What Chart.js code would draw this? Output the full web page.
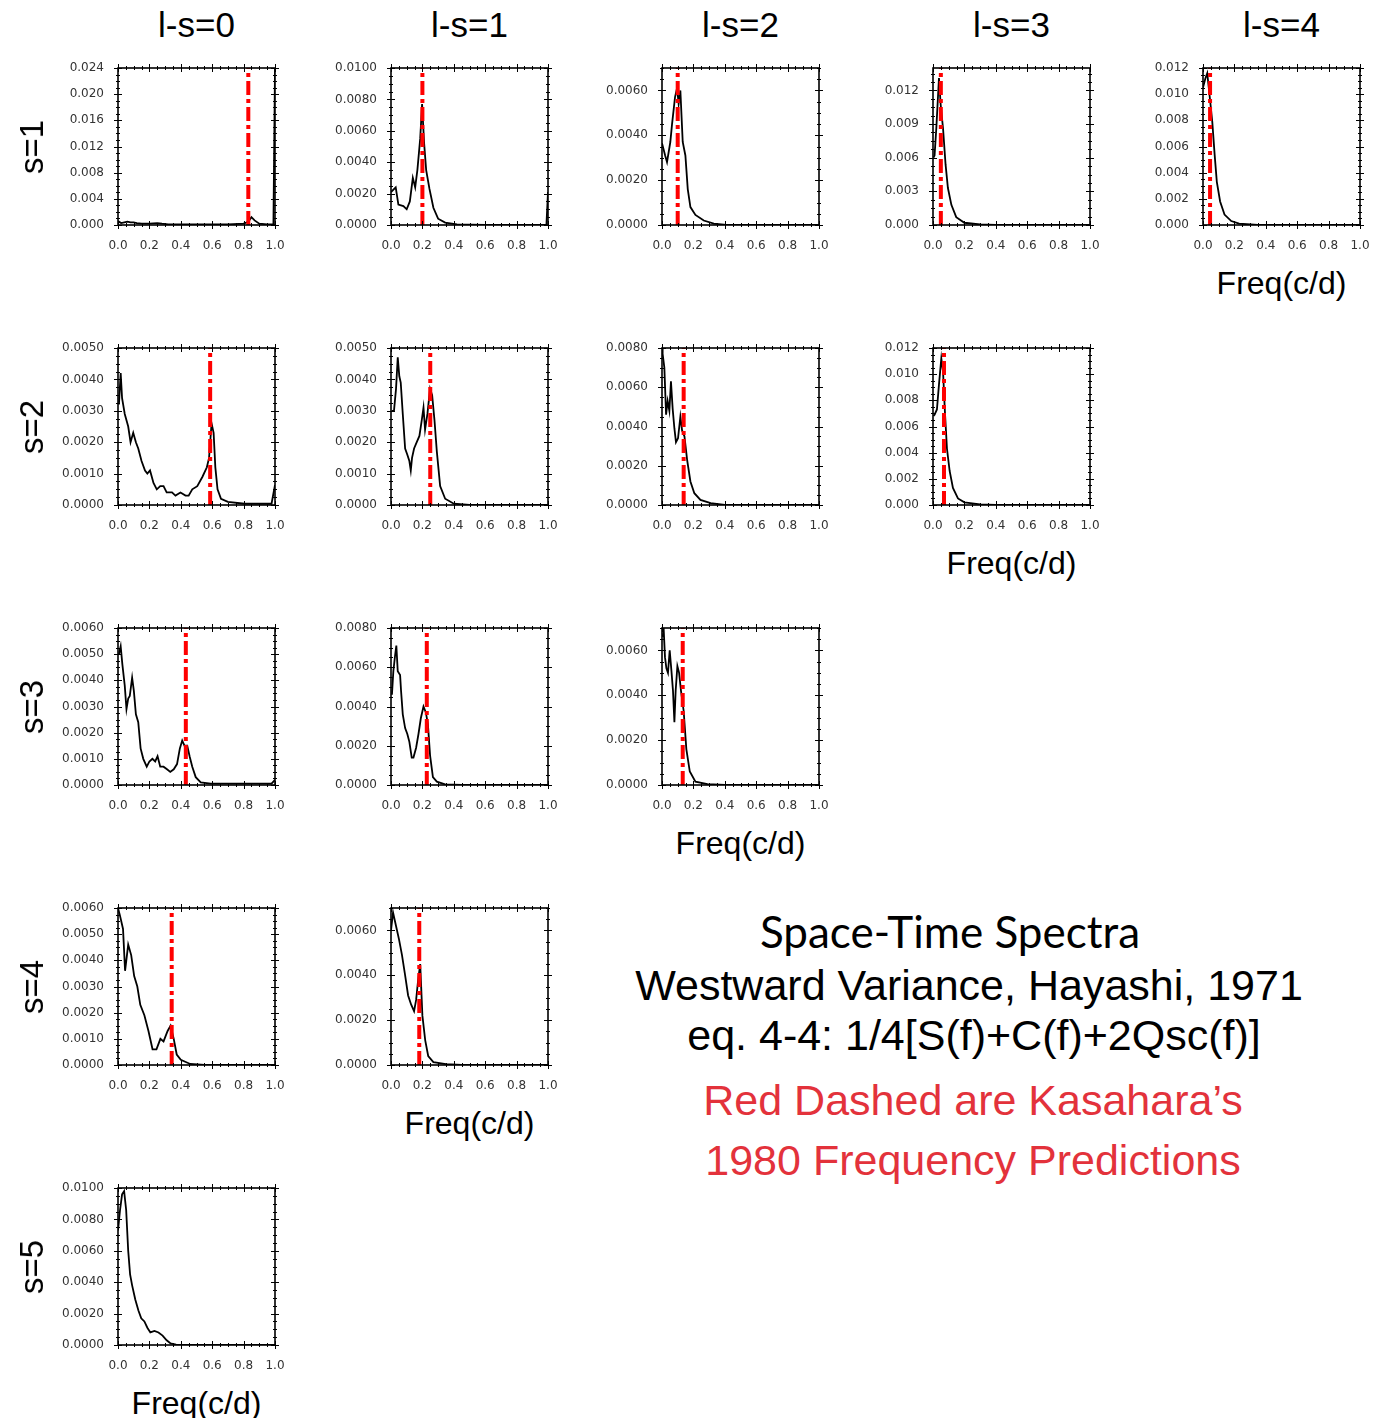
<!DOCTYPE html>
<html>
<head>
<meta charset="utf-8">
<script src="https://cdn.jsdelivr.net/npm/chart.js@4.4.0/dist/chart.umd.min.js"></script>
<style>
  html, body { margin: 0; padding: 0; background: #fff; }
  body { width: 1373px; height: 1418px; position: relative; overflow: hidden;
         font-family: 'Liberation Sans', Arial, Helvetica, sans-serif; }
  canvas { position: absolute; }
  .lbl { position: absolute; white-space: nowrap; transform: translate(-50%, -50%); color: #000; }
  .hdr { font-size: 35px; }
  .side { font-size: 33px; transform: translate(-50%, -50%) rotate(-90deg); }
  .freq { font-size: 32px; }
  .note { font-size: 43px; }
  .title { font-size: 44px; font-family: Lato, 'Open Sans', sans-serif; }
  .red { color: #e3323b; }
</style>
</head>
<body>
<script>
// frequency axis (cycles per day)
const freqTicks = [0, 0.2, 0.4, 0.6, 0.8, 1.0];
const colTitles = ['l-s=0', 'l-s=1', 'l-s=2', 'l-s=3', 'l-s=4'];
const rowTitles = ['s=1', 's=2', 's=3', 's=4', 's=5'];

// Kasahara (1980) predicted frequencies, per row (null = none drawn)
const kasaharaS1 = [0.83, 0.2, 0.1, 0.05, 0.045];
const kasaharaS2 = [0.587, 0.25, 0.138, 0.07];
const kasaharaS3 = [0.432, 0.228, 0.132];
const kasaharaS4 = [0.342, 0.18];
const kasaharaS5 = [null];

// y-axis ranges, label steps and decimals per row
const yMaxS1 = [0.024, 0.010, 0.007, 0.014, 0.012];
const yStepS1 = [0.004, 0.002, 0.002, 0.003, 0.002];
const yDecS1 = [3, 4, 4, 3, 3];
const yMaxS2 = [0.005, 0.005, 0.008, 0.012];
const yStepS2 = [0.001, 0.001, 0.002, 0.002];
const yDecS2 = [4, 4, 4, 3];
const yMaxS3 = [0.006, 0.008, 0.007];
const yStepS3 = [0.001, 0.002, 0.002];
const yDecS3 = [4, 4, 4];
const yMaxS4 = [0.006, 0.007];
const yStepS4 = [0.001, 0.002];
const yDecS4 = [4, 4];
const yMaxS5 = [0.010];
const yStepS5 = [0.002];
const yDecS5 = [4];

// spectra: frequency / power pairs
const fS1L0 = [0, 0.02, 0.04, 0.06, 0.08, 0.10, 0.12, 0.15, 0.2, 0.25, 0.28, 0.32, 0.4, 0.5, 0.6, 0.7, 0.8, 0.83, 0.85, 0.87, 0.9, 0.95, 0.99, 1.0];
const pS1L0 = [0.0006, 0.0003, 0.0004, 0.0005, 0.0004, 0.0004, 0.0003, 0.0002, 0.0002, 0.0003, 0.0002, 0.0001, 0.0001, 0.0001, 0.0001, 0.0001, 0.0002, 0.0005, 0.0012, 0.0007, 0.0002, 0.0001, 0.0001, 0.024];

const fS1L1 = [0, 0.03, 0.047, 0.079, 0.1, 0.12, 0.139, 0.154, 0.168, 0.186, 0.198, 0.211, 0.224, 0.245, 0.27, 0.3, 0.345, 0.42, 0.6, 0.99, 1.0];
const pS1L1 = [0.0021, 0.0024, 0.0013, 0.0012, 0.001, 0.0015, 0.003, 0.0024, 0.0035, 0.0055, 0.0077, 0.0052, 0.0035, 0.0023, 0.0011, 0.0004, 0.00015, 0.00004, 0, 0, 0.0021];

const fS1L2 = [0, 0.02, 0.032, 0.053, 0.064, 0.083, 0.096, 0.106, 0.117, 0.132, 0.149, 0.164, 0.181, 0.213, 0.266, 0.33, 0.41, 1.0];
const pS1L2 = [0.00365, 0.0031, 0.0028, 0.0037, 0.0045, 0.0057, 0.0061, 0.0054, 0.006, 0.0037, 0.0031, 0.0016, 0.0008, 0.00045, 0.0002, 0.00006, 0, 0];

const fS1L3 = [0.003, 0.01, 0.021, 0.038, 0.049, 0.064, 0.08, 0.095, 0.117, 0.148, 0.2, 0.3, 0.4, 1.0];
const pS1L3 = [0.006, 0.0062, 0.0086, 0.0131, 0.0107, 0.0086, 0.0054, 0.0033, 0.0018, 0.0007, 0.0002, 0.00006, 0, 0];

const fS1L4 = [0, 0.015, 0.027, 0.042, 0.059, 0.074, 0.088, 0.109, 0.137, 0.18, 0.23, 0.35, 1.0];
const pS1L4 = [0.0105, 0.0112, 0.0116, 0.0099, 0.0079, 0.0054, 0.0033, 0.0018, 0.0008, 0.0003, 0.0001, 0, 0];

const fS2L0 = [0.006, 0.017, 0.026, 0.043, 0.054, 0.065, 0.08, 0.097, 0.114, 0.129, 0.15, 0.172, 0.187, 0.204, 0.226, 0.247, 0.269, 0.29, 0.31, 0.344, 0.366, 0.398, 0.43, 0.45, 0.473, 0.505, 0.538, 0.566, 0.58, 0.596, 0.609, 0.62, 0.634, 0.656, 0.7, 0.806, 0.978, 1.0];
const pS2L0 = [0.0032, 0.0042, 0.0034, 0.0029, 0.0027, 0.0025, 0.002, 0.0023, 0.002, 0.0018, 0.0014, 0.0011, 0.001, 0.0011, 0.0007, 0.0005, 0.0006, 0.0006, 0.0004, 0.0004, 0.0003, 0.0004, 0.0003, 0.0003, 0.0005, 0.0006, 0.0009, 0.0012, 0.0015, 0.0026, 0.0023, 0.0012, 0.0005, 0.0002, 0.0001, 0.00004, 0.00004, 0.00064];

const fS2L1 = [0.004, 0.019, 0.032, 0.043, 0.053, 0.062, 0.075, 0.09, 0.104, 0.117, 0.126, 0.134, 0.147, 0.164, 0.181, 0.196, 0.207, 0.217, 0.232, 0.249, 0.262, 0.277, 0.292, 0.313, 0.345, 0.4, 0.5, 1.0];
const pS2L1 = [0.003, 0.003, 0.0037, 0.0047, 0.0041, 0.0039, 0.0029, 0.0018, 0.0016, 0.0014, 0.0011, 0.0015, 0.0018, 0.002, 0.0022, 0.0027, 0.0031, 0.0024, 0.0029, 0.0037, 0.0035, 0.0027, 0.0017, 0.0006, 0.0002, 0.00004, 0, 0];

const fS2L2 = [0, 0.004, 0.015, 0.026, 0.036, 0.047, 0.057, 0.068, 0.079, 0.089, 0.102, 0.117, 0.128, 0.143, 0.16, 0.181, 0.206, 0.245, 0.31, 0.4, 1.0];
const pS2L2 = [0.008, 0.0077, 0.007, 0.0046, 0.0053, 0.0048, 0.0063, 0.0049, 0.0039, 0.0032, 0.0034, 0.0045, 0.0038, 0.0035, 0.0023, 0.0012, 0.0006, 0.00026, 0.0001, 0, 0];

const fS2L3 = [0.003, 0.01, 0.025, 0.038, 0.053, 0.064, 0.076, 0.089, 0.106, 0.127, 0.159, 0.2, 0.3, 0.4, 1.0];
const pS2L3 = [0.0068, 0.0069, 0.0073, 0.0092, 0.0112, 0.0102, 0.0071, 0.0043, 0.0026, 0.0013, 0.0005, 0.0002, 0.00005, 0, 0];

const fS3L0 = [0.006, 0.017, 0.028, 0.043, 0.054, 0.065, 0.075, 0.09, 0.101, 0.114, 0.129, 0.144, 0.161, 0.183, 0.2, 0.219, 0.237, 0.252, 0.269, 0.29, 0.312, 0.333, 0.355, 0.376, 0.394, 0.409, 0.424, 0.441, 0.456, 0.473, 0.495, 0.527, 0.59, 0.978, 1.0];
const pS3L0 = [0.005, 0.0053, 0.0046, 0.0038, 0.0029, 0.0033, 0.0034, 0.0041, 0.0036, 0.0027, 0.0024, 0.0014, 0.001, 0.0007, 0.0009, 0.001, 0.0009, 0.0011, 0.0007, 0.0007, 0.0006, 0.0005, 0.0006, 0.0008, 0.0014, 0.0017, 0.0015, 0.0015, 0.0011, 0.0007, 0.0003, 0.0001, 0.00005, 0.00005, 0.0002];

const fS3L1 = [0.006, 0.015, 0.026, 0.034, 0.043, 0.058, 0.064, 0.075, 0.09, 0.104, 0.117, 0.132, 0.143, 0.16, 0.175, 0.19, 0.207, 0.222, 0.235, 0.249, 0.267, 0.292, 0.345, 0.45, 1.0];
const pS3L1 = [0.0046, 0.0058, 0.0066, 0.0071, 0.0058, 0.0056, 0.0048, 0.0036, 0.0029, 0.0026, 0.0022, 0.0014, 0.0014, 0.0019, 0.0026, 0.0034, 0.004, 0.0037, 0.0031, 0.0015, 0.0004, 0.00017, 0.00003, 0, 0];

const fS3L2 = [0.004, 0.011, 0.019, 0.028, 0.038, 0.049, 0.06, 0.07, 0.079, 0.087, 0.098, 0.109, 0.121, 0.138, 0.155, 0.177, 0.213, 0.29, 0.4, 1.0];
const pS3L2 = [0.0066, 0.0069, 0.0057, 0.0052, 0.005, 0.006, 0.0051, 0.0042, 0.0028, 0.0042, 0.0053, 0.005, 0.0042, 0.0033, 0.0016, 0.0006, 0.00015, 0.00004, 0, 0];

const fS4L0 = [0, 0.013, 0.032, 0.045, 0.065, 0.084, 0.103, 0.123, 0.142, 0.168, 0.194, 0.22, 0.245, 0.27, 0.29, 0.316, 0.335, 0.355, 0.374, 0.4, 0.46, 0.55, 1.0];
const pS4L0 = [0.006, 0.0057, 0.0052, 0.0036, 0.0046, 0.0042, 0.0034, 0.003, 0.0023, 0.0019, 0.0013, 0.0006, 0.0006, 0.001, 0.0009, 0.0013, 0.0015, 0.001, 0.0004, 0.0002, 0.00004, 0, 0];

const fS4L1 = [0, 0.013, 0.032, 0.051, 0.07, 0.09, 0.109, 0.128, 0.147, 0.16, 0.173, 0.186, 0.2, 0.218, 0.237, 0.27, 0.35, 0.45, 1.0];
const pS4L1 = [0.006, 0.0068, 0.0062, 0.0056, 0.0049, 0.004, 0.0031, 0.0027, 0.0024, 0.0029, 0.0038, 0.0045, 0.0022, 0.0011, 0.0004, 0.00013, 0.00004, 0, 0];

const fS5L0 = [0, 0.013, 0.026, 0.039, 0.052, 0.065, 0.077, 0.09, 0.11, 0.13, 0.148, 0.168, 0.187, 0.206, 0.232, 0.258, 0.284, 0.31, 0.335, 0.37, 0.45, 1.0];
const pS5L0 = [0.0073, 0.0086, 0.0096, 0.0098, 0.0086, 0.006, 0.0045, 0.0038, 0.0029, 0.0022, 0.0017, 0.0015, 0.0011, 0.0008, 0.0009, 0.0008, 0.0006, 0.0003, 0.0001, 0.00003, 0, 0];

const rows = [
  { f: [fS1L0, fS1L1, fS1L2, fS1L3, fS1L4], p: [pS1L0, pS1L1, pS1L2, pS1L3, pS1L4], kas: kasaharaS1, yMax: yMaxS1, yStep: yStepS1, dec: yDecS1 },
  { f: [fS2L0, fS2L1, fS2L2, fS2L3], p: [pS2L0, pS2L1, pS2L2, pS2L3], kas: kasaharaS2, yMax: yMaxS2, yStep: yStepS2, dec: yDecS2 },
  { f: [fS3L0, fS3L1, fS3L2], p: [pS3L0, pS3L1, pS3L2], kas: kasaharaS3, yMax: yMaxS3, yStep: yStepS3, dec: yDecS3 },
  { f: [fS4L0, fS4L1], p: [pS4L0, pS4L1], kas: kasaharaS4, yMax: yMaxS4, yStep: yStepS4, dec: yDecS4 },
  { f: [fS5L0], p: [pS5L0], kas: kasaharaS5, yMax: yMaxS5, yStep: yStepS5, dec: yDecS5 }
];

// page layout
const colLeft = [118, 391, 662, 933, 1203];
const rowTop = [68, 348, 628, 908, 1188];
const plotW = 157, plotH = 157;
const padL = 70, padT = 10, padR = 12, padB = 32;
const TICKFONT = "'DejaVu Sans', Arial, sans-serif";

// NCL-like frame: border plus major/minor ticks on all four sides
const frameTicks = {
  id: 'frameTicks',
  afterDatasetsDraw(chart, args, opts) {
    const { ctx, chartArea: a, scales: { x, y } } = chart;
    ctx.save();
    ctx.strokeStyle = '#000';
    ctx.lineWidth = 1;
    ctx.beginPath();
    for (let i = 0; i <= 20; i++) {
      const px = Math.round(x.getPixelForValue(i * 0.05)) + 0.5;
      const len = i % 4 === 0 ? 4 : 2;
      ctx.moveTo(px, a.top - len); ctx.lineTo(px, a.top + len);
      ctx.moveTo(px, a.bottom - len); ctx.lineTo(px, a.bottom + len);
    }
    const minor = opts.yStep / 4;
    const n = Math.floor(opts.yMax / minor + 1e-6);
    for (let i = 0; i <= n; i++) {
      const py = Math.round(y.getPixelForValue(i * minor)) + 0.5;
      const len = i % 4 === 0 ? 4 : 2;
      ctx.moveTo(a.left - len, py); ctx.lineTo(a.left + len, py);
      ctx.moveTo(a.right - len, py); ctx.lineTo(a.right + len, py);
    }
    ctx.stroke();
    ctx.lineWidth = 1.6;
    ctx.strokeRect(a.left, a.top, a.right - a.left, a.bottom - a.top);
    ctx.restore();
  }
};

function addLabel(text, cls, x, y) {
  const d = document.createElement('div');
  d.className = 'lbl ' + cls;
  d.textContent = text;
  d.style.left = x + 'px';
  d.style.top = y + 'px';
  document.body.appendChild(d);
  return d;
}

rows.forEach((row, r) => {
  row.f.forEach((freq, c) => {
    const yMax = row.yMax[c], yStep = row.yStep[c], dec = row.dec[c];
    const canvas = document.createElement('canvas');
    canvas.width = plotW + padL + padR;
    canvas.height = plotH + padT + padB;
    canvas.style.left = (colLeft[c] - padL) + 'px';
    canvas.style.top = (rowTop[r] - padT) + 'px';
    document.body.appendChild(canvas);

    const datasets = [];
    if (row.kas[c] !== null) {
      datasets.push({
        data: [{ x: row.kas[c], y: 0 }, { x: row.kas[c], y: yMax }],
        borderColor: '#ff0000', borderWidth: 4, borderDash: [14, 4, 4, 4],
        pointRadius: 0
      });
    }
    datasets.push({
      data: freq.map((v, i) => ({ x: v, y: row.p[c][i] })),
      borderColor: '#000', borderWidth: 1.8, pointRadius: 0, tension: 0
    });

    new Chart(canvas, {
      type: 'line',
      data: { datasets },
      options: {
        responsive: false,
        animation: false,
        events: [],
        layout: { padding: { left: 0, top: padT, right: padR, bottom: 0 } },
        plugins: {
          legend: { display: false },
          tooltip: { enabled: false },
          frameTicks: { yStep, yMax }
        },
        scales: {
          x: {
            type: 'linear', min: 0, max: 1,
            grid: { display: false }, border: { display: false },
            afterBuildTicks: s => { s.ticks = freqTicks.map(v => ({ value: v })); },
            afterFit: s => { s.height = padB; s.paddingLeft = 0; s.paddingRight = 0; },
            ticks: {
              padding: 6, maxRotation: 0, autoSkip: false, color: '#333',
              font: { size: 12, family: TICKFONT },
              callback: v => v.toFixed(1)
            }
          },
          y: {
            type: 'linear', min: 0, max: yMax,
            grid: { display: false }, border: { display: false },
            afterBuildTicks: s => {
              const t = [];
              for (let i = 0; i * yStep <= yMax + 1e-9; i++) t.push({ value: i * yStep });
              s.ticks = t;
            },
            afterFit: s => { s.width = padL; s.paddingTop = 0; s.paddingBottom = 0; },
            ticks: {
              padding: 6, autoSkip: false, color: '#333',
              font: { size: 12, family: TICKFONT },
              callback: v => v.toFixed(dec)
            }
          }
        }
      },
      plugins: [frameTicks]
    });
  });
  addLabel(rowTitles[r], 'side', 32, rowTop[r] + plotH / 2);
  // frequency label under the last panel of the row
  const last = row.f.length - 1;
  addLabel('Freq(c/d)', 'freq', colLeft[last] + plotW / 2, rowTop[r] + plotH + 58);
});

colTitles.forEach((t, c) => addLabel(t, 'hdr', colLeft[c] + plotW / 2, 25));
</script>
<div class="lbl title" style="left:950px;top:931px;">Space-Time Spectra</div>
<div class="lbl note" style="left:969px;top:985px;">Westward Variance, Hayashi, 1971</div>
<div class="lbl note" style="left:974px;top:1035px;">eq. 4-4: 1/4[S(f)+C(f)+2Qsc(f)]</div>
<div class="lbl note red" style="left:973px;top:1100px;">Red Dashed are Kasahara’s</div>
<div class="lbl note red" style="left:973px;top:1160px;">1980 Frequency Predictions</div>
</body>
</html>
